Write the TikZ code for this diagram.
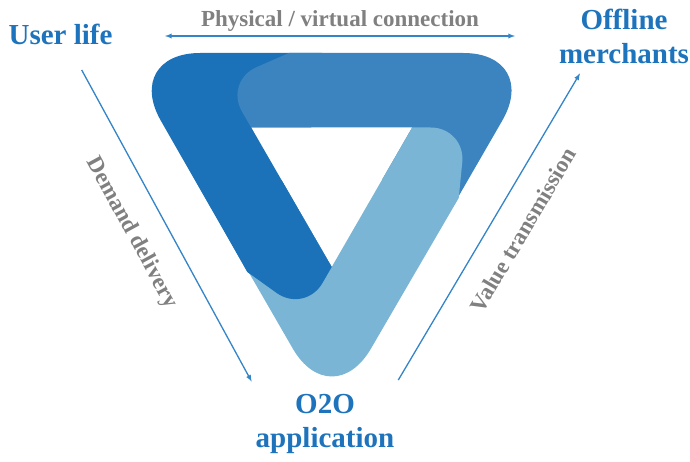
\documentclass[tikz,border=0pt]{standalone}
\usepackage{fontspec}
\setmainfont{Liberation Serif}
\usepackage{tikz}
\usetikzlibrary{calc}
\definecolor{o2o-blue1}{RGB}{27, 114, 184}
\definecolor{o2o-blue2}{RGB}{60, 132, 192}
\definecolor{o2o-blue3}{RGB}{123, 181, 214}
\definecolor{o2o-text}{RGB}{30, 116, 188}
\definecolor{o2o-gray}{RGB}{128, 128, 128}
\definecolor{o2o-line}{RGB}{52, 132, 200}

\begin{document}
\begin{tikzpicture}[x = 1pt, y = 1pt,
    head/.style = {text = o2o-text, font = \fontsize{29}{34}\selectfont\bfseries, align = center},
    side/.style = {text = o2o-gray, font = \fontsize{23}{26}\selectfont\bfseries, inner sep = 1pt},
    link/.style = {o2o-line, line width = 1.3pt}]
  \useasboundingbox (0, 0) rectangle (690, 461);

  % the three bands, around the centre of the triangle
  \begin{scope}[shift = {(331.7, 287)}]
    % inner corners
    \coordinate (P1) at (-80.5, 46.5);
    \coordinate (P2) at (80.5, 46.5);
    \coordinate (P3) at (0, -93);
    % outer corners
    \coordinate (Q1) at (-209.6, 121);
    \coordinate (Q2) at (209.6, 121);
    \coordinate (Q3) at (0, -242);
    % rounded ends of the bands
    \coordinate (C1) at (-107.3, 92.8);
    \coordinate (C2) at (134, 46.5);
    \coordinate (C3) at (-26.7, -139.3);
    \coordinate (E1) at (-42.7, 121);
    \coordinate (E2) at (127, -24);
    \coordinate (E3) at (-84.3, -98);
    % hidden tails
    \coordinate (F1) at (-9.6, 121);
    \coordinate (G1) at (-20.5, 46.5);
    \coordinate (F2) at (109.6, -52.2);
    \coordinate (G2) at (50.5, -5.5);
    \coordinate (F3) at (-100, -68.8);
    \coordinate (G3) at (-30, -41);

    \fill[o2o-blue1] (P3) [rounded corners = 35pt] -- (C3) [sharp corners] -- (E3)
      [rounded corners = 78pt] -- (Q1) [sharp corners] -- (F1) -- (G1) -- (P1) -- cycle;
    \fill[o2o-blue2] (P1) [rounded corners = 35pt] -- (C1) [sharp corners] -- (E1)
      [rounded corners = 78pt] -- (Q2) [sharp corners] -- (F2) -- (G2) -- (P2) -- cycle;
    \fill[o2o-blue3] (P2) [rounded corners = 35pt] -- (C2) [sharp corners] -- (E2)
      [rounded corners = 78pt] -- (Q3) [sharp corners] -- (F3) -- (G3) -- (P3) -- cycle;
    % lower end of the left band lies on top again
    \fill[o2o-blue1] (P3) [rounded corners = 35pt] -- (C3) [sharp corners] -- (E3)
      -- ($(F3) + (120:40)$) -- ($(G3) + (120:40)$) -- cycle;
  \end{scope}

  \node[head, anchor = base] (user) at (60.5, 416.7) {User life};
  \node[head] (merchants) at (624, 425) {Offline\\merchants};
  \node[head] (o2o) at (325, 37) {O2O\\application};

  \coordinate (link-left) at (165, 425);
  \coordinate (link-right) at (515, 425);
  \coordinate (user-tail) at (81.7, 391);
  \coordinate (o2o-head) at (251.7, 79.3);
  \coordinate (o2o-tail) at (398.3, 81);
  \coordinate (merchants-head) at (580, 387.7);

  \draw[link, latex-latex] (link-left) -- node[side, above = 3pt] (physical) {Physical / virtual connection} (link-right);
  \draw[link, -latex] (user-tail) -- node[side, sloped, below = 22pt, pos = 0.47] (demand) {Demand delivery} (o2o-head);
  \draw[link, -latex] (o2o-tail) -- node[side, sloped, below = 21pt, pos = 0.54] (value) {Value transmission} (merchants-head);
\end{tikzpicture}
\end{document}
